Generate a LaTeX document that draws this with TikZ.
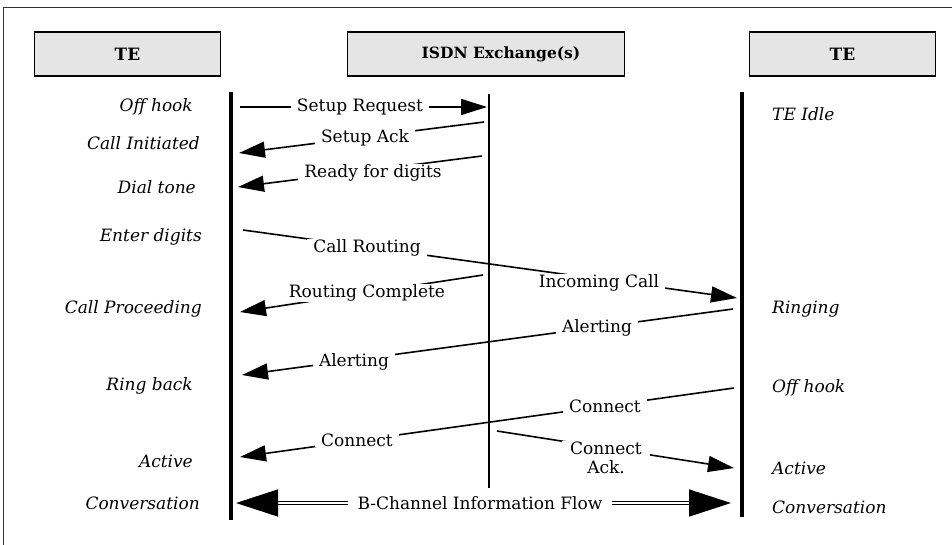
\documentclass[tikz,border=0pt]{standalone}
\usepackage{fontspec}
\setmainfont{DejaVu Serif}
\usetikzlibrary{arrows.meta}
\begin{document}
\begin{tikzpicture}[x=1pt,y=-1pt,
  lbl/.style={font=\fontsize{17}{20}\selectfont, fill=white, inner xsep=6pt, inner ysep=1pt, align=center},
  st/.style={font=\itshape\fontsize{17}{20}\selectfont, inner sep=0pt},
  hdr/.style={draw, line width=1.3pt, fill=black!10, font=\bfseries\fontsize{15.5}{18}\selectfont, inner sep=0pt, minimum height=44pt},
  life/.style={line width=4pt},
  msg/.style={line width=1.6pt, -{Triangle[length=26pt,width=16pt]}},
  bflow/.style={line width=1.5pt, double, double distance=1.8pt, {Triangle[length=42pt,width=27pt]}-{Triangle[length=42pt,width=27pt]}}
]
\useasboundingbox (0,0) rectangle (952,544);
\clip (0,0) rectangle (952,544);
\draw[line width=0.9pt, black!80] (3,7) rectangle (980,580);

% headers
\node[hdr, minimum width=186pt, font=\bfseries\fontsize{17}{20}\selectfont] (te1) at (127.5,54) {TE};
\node[hdr, minimum width=277pt] (ex) at (486,54) {\hspace*{30pt}ISDN Exchange(s)};
\node[hdr, minimum width=186pt, font=\bfseries\fontsize{17}{20}\selectfont] (te2) at (842.5,54) {TE};

% lifelines
\coordinate (a1) at (231,92);  \coordinate (a2) at (231,520);
\coordinate (b1) at (489,94);  \coordinate (b2) at (489,488);
\coordinate (c1) at (742,92);  \coordinate (c2) at (742,517);
\draw[life] (a1) -- (a2);
\draw[line width=1.8pt] (b1) -- (b2);
\draw[life] (c1) -- (c2);

% left states
\node[st, anchor=east] (s1) at (193,107) {Off hook};
\node[st, anchor=east] (s2) at (200,143) {Call Initiated};
\node[st, anchor=east] (s3) at (196,187) {Dial tone};
\node[st, anchor=east] (s4) at (202,237) {Enter digits};
\node[st, anchor=east] (s5) at (202,309) {Call Proceeding};
\node[st, anchor=east] (s6) at (193,386) {Ring back};
\node[st, anchor=east] (s7) at (193,461) {Active};
\node[st, anchor=east] (s8) at (200,503) {Conversation};
% right states
\node[st, anchor=west] (r1) at (772,114) {TE Idle};
\node[st, anchor=west] (r2) at (772,309) {Ringing};
\node[st, anchor=west] (r3) at (772,388) {Off hook};
\node[st, anchor=west] (r4) at (772,468) {Active};
\node[st, anchor=west] (r5) at (772,507) {Conversation};

% message end points
\coordinate (m1s) at (240,107); \coordinate (m1e) at (487,107);
\coordinate (m2s) at (484,122); \coordinate (m2e) at (239,153);
\coordinate (m3s) at (482,156); \coordinate (m3e) at (238,187);
\coordinate (m4s) at (243,230); \coordinate (m4e) at (737,298);
\coordinate (m5s) at (483,275); \coordinate (m5e) at (240,312);
\coordinate (m6s) at (733,309); \coordinate (m6e) at (242,375);
\coordinate (m7s) at (734,388); \coordinate (m7e) at (240,457);
\coordinate (m8s) at (497,431); \coordinate (m8e) at (734,468);
\coordinate (m9s) at (236,503); \coordinate (m9e) at (731,503);

\draw[msg] (m1s) -- (m1e);
\draw[msg] (m2s) -- (m2e);
\draw[msg] (m3s) -- (m3e);
\draw[msg] (m4s) -- (m4e);
\draw[msg] (m5s) -- (m5e);
\draw[msg] (m6s) -- (m6e);
\draw[msg] (m7s) -- (m7e);
\draw[msg] (m8s) -- (m8e);
\draw[bflow] (m9s) -- (m9e);

% message labels
\node[lbl] (t1) at (360,107) {Setup Request};
\node[lbl] (t2) at (365,138) {Setup Ack};
\node[lbl] (t3) at (373,173) {Ready for digits};
\node[lbl] (t4) at (367,248) {Call Routing};
\node[lbl] (t5) at (599,283) {Incoming Call};
\node[lbl] (t6) at (367,293) {Routing Complete};
\node[lbl] (t7) at (597,328) {Alerting};
\node[lbl] (t8) at (354,362) {Alerting};
\node[lbl] (t9) at (605,406) {Connect};
\node[lbl] (t10) at (357,440) {Connect};
\node[lbl, inner xsep=8pt] (t11) at (606,458) {Connect\\[-1pt]Ack.};
\node[lbl, inner xsep=10pt] (t12) at (480,503) {B-Channel Information Flow};
\end{tikzpicture}
\end{document}
